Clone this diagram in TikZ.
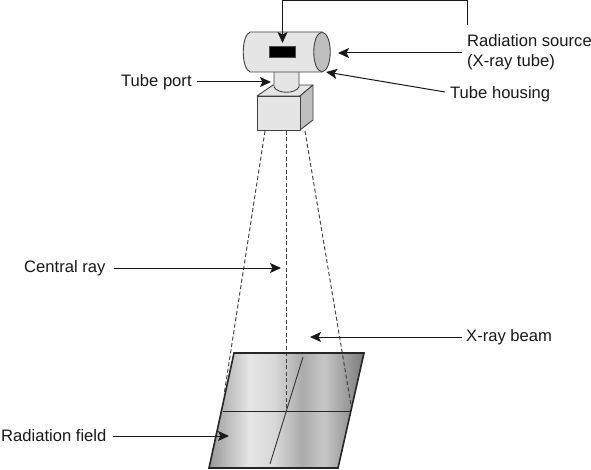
\documentclass[tikz,border=0pt]{standalone}
\usepackage{fontspec}
\setmainfont{Liberation Sans}
\usetikzlibrary{arrows.meta}
\pgfdeclarehorizontalshading{fieldshade}{100bp}{
 color(0bp)=(black!40); color(25bp)=(black!40); color(38bp)=(black!10); color(46bp)=(black!15);
 color(55bp)=(black!33); color(62bp)=(black!22); color(75bp)=(black!52); color(100bp)=(black!52)}
\tikzset{
 lab/.style={font=\fontsize{16.6}{19.5}\selectfont,inner sep=0pt,anchor=west,align=left,text=black!90},
 ptr/.style={line width=1pt,black!90,-{Stealth[length=11pt,width=10pt,inset=2.5pt]}},
 edge/.style={line width=0.9pt,draw=black!75,line join=round},
 beam/.style={line width=0.95pt,black!75,dash pattern=on 4pt off 2.5pt},
}
\begin{document}
\begin{tikzpicture}[x=1pt,y=-1pt]
\useasboundingbox (0,0) rectangle (591,470);
% field
\begin{scope}
\clip (234,353) -- (364,353) -- (338,468) -- (209,468) -- cycle;
\shade[shading=fieldshade,shading angle=0] (209,353) rectangle (364,468);
\end{scope}
% beam
\coordinate (bl0) at (265,131); \coordinate (bl1) at (224,395);
\coordinate (bc0) at (286,131); \coordinate (bc1) at (286,410);
\coordinate (br0) at (305,131); \coordinate (br1) at (351,405);
\draw[beam] (bl0) -- (bl1);
\draw[beam] (bc0) -- (bc1);
\draw[beam] (br0) -- (br1);
\draw[line width=1.6pt,black!85,line join=miter] (234,353) -- (364,353) -- (338,468) -- (209,468) -- cycle;
\draw[line width=0.9pt,black!85] (222.5,411) -- (351,411);
\draw[line width=0.9pt,black!80] (303,357) -- (270,464);
% box
\fill[black!10,edge] (257,96) -- (273,85) -- (313,85) -- (300,96) -- cycle;
\fill[black!25,edge] (300,96) -- (313,85) -- (313,120) -- (300,130) -- cycle;
\fill[black!10,edge] (257,96) rectangle (300,130);
% port
\fill[black!10,edge] (274,68) -- (274,87) .. controls (278,94) and (295,94) .. (299,87) -- (299,68);
% tube
\fill[black!10,edge] (322,32) -- (250,32) .. controls (241,36) and (241,68) .. (250,72) -- (322,72);
\fill[black!25,edge] (322,32) .. controls (333,34) and (333,70) .. (322,72) .. controls (311,70) and (311,34) .. (322,32) -- cycle;
\fill[black,draw=black!70,line width=0.5pt] (269,46) rectangle (295,57);
% labels
\node[lab] (src) at (467,52) {Radiation source\\(X-ray tube)};
\node[lab] (housing) at (450,94.5) {Tube housing};
\node[lab] (port) at (121,82) {Tube port};
\node[lab] (central) at (24,268) {Central ray};
\node[lab] (beamlab) at (466,337) {X-ray beam};
\node[lab] (fieldlab) at (1,436) {Radiation field};
% pointers
\coordinate (srctop) at (467,25);
\coordinate (c1) at (467,0.6); \coordinate (c2) at (282.5,0.6);
\coordinate (tubetop) at (282.5,43);
\coordinate (tsrc) at (338,53); \coordinate (thou) at (326,72);
\coordinate (tport) at (271,82); \coordinate (tcen) at (281,268);
\coordinate (tbeam) at (310,337); \coordinate (tfield) at (229,436);
\draw[ptr] (srctop) -- (c1) -- (c2) -- (tubetop);
\draw[ptr] (462,53) -- (tsrc);
\draw[ptr] (housing.west) ++(-5,-2.5) -- (thou);
\draw[ptr] (port.east) ++(5,0) -- (tport);
\draw[ptr] (central.east) ++(8,0) -- (tcen);
\draw[ptr] (beamlab.west) ++(-4,0) -- (tbeam);
\draw[ptr] (fieldlab.east) ++(6,0) -- (tfield);
\end{tikzpicture}
\end{document}
